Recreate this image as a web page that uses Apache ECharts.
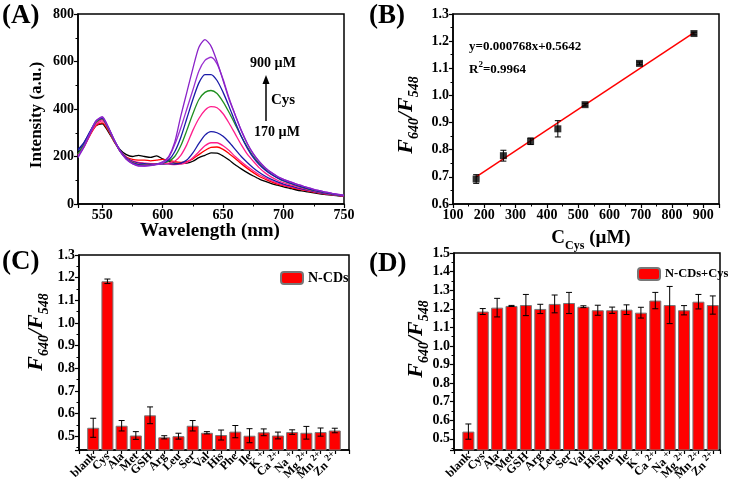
<!DOCTYPE html>
<html><head><meta charset="utf-8">
<script src="https://cdn.jsdelivr.net/npm/echarts@6/dist/echarts.min.js"></script>
<style>html,body{margin:0;padding:0;background:#fff}#c{width:732px;height:485px}</style>
</head><body><div id="c"></div>
<script>
// ---------- Panel A data ----------
const wavelengths = [530,535,540,545,550,555,560,565,570,575,580,585,590,595,600,605,610,615,620,625,630,635,640,645,650,655,660,665,670,675,680,685,690,695,700,705,710,715,720,725,730,735,740,745,750];
const specBlack  = [215,250,295,330,338,305,262,228,208,200,205,200,196,203,190,180,172,170,172,180,195,205,215,214,202,185,165,148,132,118,105,95,86,79,72,66,60,55,51,47,43,40,37,34,32];
const specRed    = [205,240,290,330,342,310,262,222,198,188,185,185,182,185,188,185,178,175,178,190,208,225,238,240,230,212,192,170,150,132,116,104,93,84,77,71,65,60,55,50,46,42,39,36,33];
const specPink1  = [210,245,295,335,350,315,265,222,195,182,175,172,170,170,170,168,166,168,175,195,220,245,258,258,245,225,200,178,158,140,123,110,98,88,80,74,68,62,57,52,47,43,40,36,33];
const specBlue1  = [230,260,305,345,358,320,268,225,195,180,172,170,168,168,168,170,168,172,185,215,255,290,305,300,285,260,230,200,175,152,133,117,104,93,84,77,70,64,58,53,48,44,40,37,34];
const specPink2  = [205,245,295,340,355,318,265,222,192,176,168,166,166,168,170,172,180,205,250,310,360,395,410,405,380,340,295,250,210,180,152,130,113,100,90,82,75,68,61,55,50,45,41,37,34];
const specGreen  = [210,250,300,345,360,318,265,220,190,174,166,164,165,168,172,180,200,245,310,380,440,470,478,465,430,385,335,285,240,200,170,145,125,110,97,88,79,71,64,57,52,47,42,38,35];
const specBlue2  = [225,258,305,350,362,322,268,222,190,172,165,163,164,167,172,185,220,280,360,440,510,545,545,520,470,410,345,285,235,195,165,142,124,110,98,89,80,72,65,58,52,47,43,39,35];
const specPurp1  = [200,245,300,350,365,322,268,220,188,170,162,160,162,166,172,195,250,320,400,480,560,605,618,590,525,445,375,310,255,212,178,152,132,116,104,94,85,77,69,62,56,50,45,40,36];
const specPurp2  = [195,240,295,350,368,325,270,222,188,170,160,160,163,168,178,200,260,370,470,570,660,692,665,600,520,440,375,310,255,210,178,152,132,116,104,94,85,77,69,62,56,50,45,40,36];
const spectra = [specBlack, specRed, specPink1, specBlue1, specPink2, specGreen, specBlue2, specPurp1, specPurp2];
const spectraColors = ['#000000','#ff0000','#ff1e8c','#1a1aa8','#ff1e8c','#1f8f1f','#1a1aa8','#9a30d0','#8a22c8'];

// ---------- Panel B data ----------
const concCys = [174, 261, 348, 435, 522, 696, 870];
const ratioB = [0.692, 0.778, 0.831, 0.877, 0.966, 1.118, 1.228];
const ratioBErr = [0.016, 0.02, 0.012, 0.03, 0.005, 0.005, 0.005];
const fitX = [174, 870];
const fitY = [0.700, 1.231];

// ---------- Panel C / D data ----------
const analytes = ['blank','Cys','Ala','Met','GSH','Arg','Leu','Ser','Val','His','Phe','Ile','K+','Ca2+','Na+','Mg2+','Mn2+','Zn2+'];
const ratioC = [0.538,1.184,0.547,0.504,0.593,0.496,0.501,0.547,0.516,0.506,0.521,0.503,0.518,0.504,0.519,0.516,0.519,0.526];
const ratioCErr = [0.042,0.010,0.023,0.017,0.037,0.007,0.013,0.023,0.005,0.022,0.027,0.031,0.015,0.015,0.010,0.028,0.018,0.010];
const ratioD = [0.539,1.185,1.206,1.215,1.220,1.199,1.226,1.231,1.211,1.192,1.192,1.195,1.179,1.244,1.220,1.192,1.238,1.220];
const ratioDErr = [0.041,0.016,0.050,0.003,0.057,0.025,0.048,0.057,0.005,0.027,0.017,0.026,0.029,0.044,0.100,0.025,0.039,0.049];

const FONT = 'Liberation Serif';
const chart = echarts.init(document.getElementById('c'), null, {renderer:'canvas'});

const axisLineS = {show:true, onZero:false, lineStyle:{color:'#000', width:1.5}};
const tickS = {show:true, inside:false, length:4, lineStyle:{color:'#000', width:1.2}};
const minorS = {show:true, splitNumber:2, length:2.5, lineStyle:{color:'#000', width:1}};
const labS = {color:'#000', fontFamily:FONT, fontWeight:'bold', fontSize:14, margin:4};

function valAxis(grid, extra){
  return Object.assign({type:'value', gridIndex:grid, axisLine:axisLineS, axisTick:tickS, minorTick:minorS,
    splitLine:{show:false}, minorSplitLine:{show:false}, axisLabel:Object.assign({}, labS)}, extra||{});
}
function supLabel(name){
  const m = name.match(/^([A-Za-z]+)(\d*\+)$/);
  if (m) return '{n|' + m[1] + ' }{s|' + m[2] + '}';
  return '{n|' + name + '}';
}
function catAxis(grid, max){
  return valAxis(grid, {min:-1, max:max, interval:1, minorTick:{show:false},
    axisLabel:{color:'#000', fontFamily:FONT, fontWeight:'bold', fontSize:12, rotate:45, margin:4,
      formatter:function(v){ const i = Math.round(v); if (Math.abs(v-i)>1e-6 || i<0 || i>=analytes.length) return ''; return supLabel(analytes[i]); },
      rich:{n:{fontFamily:FONT, fontWeight:'bold', fontSize:12, lineHeight:14, color:'#000', verticalAlign:'bottom'},
            s:{fontFamily:FONT, fontWeight:'bold', fontSize:9.5, lineHeight:14, verticalAlign:'top', color:'#000'}}
    }});
}
function errRender(capW){
  return function(params, api){
    const x = api.value(0), lo = api.value(1), hi = api.value(2);
    const p1 = api.coord([x, lo]), p2 = api.coord([x, hi]);
    const st = {stroke:'#000', lineWidth:1};
    return {type:'group', children:[
      {type:'line', shape:{x1:p1[0],y1:p1[1],x2:p2[0],y2:p2[1]}, style:st},
      {type:'line', shape:{x1:p1[0]-capW,y1:p1[1],x2:p1[0]+capW,y2:p1[1]}, style:st},
      {type:'line', shape:{x1:p2[0]-capW,y1:p2[1],x2:p2[0]+capW,y2:p2[1]}, style:st}
    ]};
  };
}

const series = [];
spectra.forEach(function(arr, k){
  series.push({type:'line', xAxisIndex:0, yAxisIndex:0, name:'s'+k, data:wavelengths.map((w,i)=>[w,arr[i]]),
    showSymbol:false, smooth:0.25, lineStyle:{color:spectraColors[k], width:1.3}, itemStyle:{color:spectraColors[k]}, z:2+k, silent:true});
});
series.push({type:'line', xAxisIndex:1, yAxisIndex:1, name:'fit', data:fitX.map((x,i)=>[x,fitY[i]]),
  showSymbol:false, lineStyle:{color:'#ff0000', width:1.5}, z:2});
series.push({type:'scatter', xAxisIndex:1, yAxisIndex:1, name:'pts', data:concCys.map((x,i)=>[x,ratioB[i]]),
  symbol:'rect', symbolSize:7, itemStyle:{color:'#000'}, z:4});
series.push({type:'custom', xAxisIndex:1, yAxisIndex:1, name:'errB', renderItem:errRender(3),
  data:concCys.map((x,i)=>[x, ratioB[i]-ratioBErr[i], ratioB[i]+ratioBErr[i]]), encode:{x:0, y:[1,2]}, z:5});
series.push({type:'bar', xAxisIndex:2, yAxisIndex:2, name:'N-CDs', data:ratioC.map((v,i)=>[i,v]), barWidth:12,
  itemStyle:{color:'#ff0000', borderColor:'#777', borderWidth:1}, z:2});
series.push({type:'custom', xAxisIndex:2, yAxisIndex:2, name:'errC', renderItem:errRender(3),
  data:ratioC.map((v,i)=>[i, v-ratioCErr[i], v+ratioCErr[i]]), encode:{x:0, y:[1,2]}, z:5});
series.push({type:'bar', xAxisIndex:3, yAxisIndex:3, name:'N-CDs+Cys', data:ratioD.map((v,i)=>[i,v]), barWidth:12,
  itemStyle:{color:'#ff0000', borderColor:'#777', borderWidth:1}, z:2});
series.push({type:'custom', xAxisIndex:3, yAxisIndex:3, name:'errD', renderItem:errRender(3),
  data:ratioD.map((v,i)=>[i, v-ratioDErr[i], v+ratioDErr[i]]), encode:{x:0, y:[1,2]}, z:5});

const gridS = {show:true, borderColor:'#000', borderWidth:1.5, backgroundColor:'transparent', outerBoundsMode:'none', containLabel:false};
const fRich = {
  f:{fontFamily:FONT, fontWeight:'bold', fontStyle:'italic', fontSize:22, lineHeight:24, color:'#000', verticalAlign:'bottom'},
  s:{fontFamily:FONT, fontWeight:'bold', fontStyle:'italic', fontSize:14, lineHeight:24, color:'#000', verticalAlign:'bottom', padding:[0,0,-4,0]}
};
const fText = '{f|F}{s|640}{f|/F}{s|548}';
function txt(x, y, text, size, extra){
  return Object.assign({type:'text', x:x, y:y, silent:true, style:{text:text, fontFamily:FONT, fontWeight:'bold', fontSize:size, fill:'#000', align:'left', verticalAlign:'middle'}}, extra||{});
}

const option = {
  animation:false,
  backgroundColor:'#fff',
  grid:[
    Object.assign({left:78, top:14, width:266, height:190}, gridS),
    Object.assign({left:453, top:14, width:266, height:190}, gridS),
    Object.assign({left:79, top:255, width:270, height:195}, gridS),
    Object.assign({left:454, top:253, width:266, height:197}, gridS)
  ],
  xAxis:[
    valAxis(0, {min:530, max:750, splitNumber:5, axisLabel:Object.assign({}, labS, {showMinLabel:false})}),
    valAxis(1, {min:100, max:950, interval:100, axisLabel:Object.assign({}, labS, {showMaxLabel:false})}),
    catAxis(2, 18),
    catAxis(3, 17.5)
  ],
  yAxis:[
    valAxis(0, {min:0, max:800, interval:200}),
    valAxis(1, {min:0.6, max:1.3, interval:0.1, axisLabel:Object.assign({}, labS, {formatter:v=>v.toFixed(1)})}),
    valAxis(2, {min:0.44, max:1.3, splitNumber:8, axisLabel:Object.assign({}, labS, {showMinLabel:false, formatter:v=>v.toFixed(1)})}),
    valAxis(3, {min:0.44, max:1.5, splitNumber:10, axisLabel:Object.assign({}, labS, {showMinLabel:false, formatter:v=>v.toFixed(1)})})
  ],
  legend:[
    {data:['N-CDs'], left:275, top:266, itemWidth:22, itemHeight:12, itemGap:4, selectedMode:false,
      textStyle:{fontFamily:FONT, fontWeight:'bold', fontSize:14, color:'#000'}},
    {data:['N-CDs+Cys'], left:632, top:262, itemWidth:22, itemHeight:12, itemGap:4, selectedMode:false,
      textStyle:{fontFamily:FONT, fontWeight:'bold', fontSize:12.5, color:'#000'}}
  ],
  series:series,
  graphic:[
    txt(2, 16, '(A)', 27),
    txt(369, 16, '(B)', 27),
    txt(2, 262, '(C)', 27),
    txt(369, 264, '(D)', 27),
    txt(37, 115, 'Intensity (a.u.)', 17, {rotation:Math.PI/2, style:{text:'Intensity (a.u.)', fontFamily:FONT, fontWeight:'bold', fontSize:17, fill:'#000', align:'center', verticalAlign:'middle'}}),
    txt(210, 231, 'Wavelength (nm)', 19, {style:{text:'Wavelength (nm)', fontFamily:FONT, fontWeight:'bold', fontSize:19, fill:'#000', align:'center', verticalAlign:'middle'}}),
    txt(273, 63, '900 µM', 14, {style:{text:'900 µM', fontFamily:FONT, fontWeight:'bold', fontSize:14, fill:'#000', align:'center', verticalAlign:'middle'}}),
    txt(271, 100, 'Cys', 15),
    txt(277, 132, '170 µM', 14, {style:{text:'170 µM', fontFamily:FONT, fontWeight:'bold', fontSize:14, fill:'#000', align:'center', verticalAlign:'middle'}}),
    {type:'line', silent:true, shape:{x1:266, y1:121, x2:266, y2:82}, style:{stroke:'#000', lineWidth:1.5}},
    {type:'polygon', silent:true, shape:{points:[[262.5,84],[269.5,84],[266,75]]}, style:{fill:'#000'}},
    {type:'text', x:405, y:115, rotation:Math.PI/2, silent:true, style:{text:fText, rich:fRich, align:'center', verticalAlign:'middle'}},
    {type:'text', x:591, y:237, silent:true, style:{text:'{c|C}{s|Cys}{c| (µM)}', align:'center', verticalAlign:'middle',
      rich:{c:{fontFamily:FONT, fontWeight:'bold', fontSize:19, lineHeight:22, color:'#000', verticalAlign:'bottom'},
            s:{fontFamily:FONT, fontWeight:'bold', fontSize:12, lineHeight:22, color:'#000', verticalAlign:'bottom', padding:[0,0,-4,0]}}}},
    txt(469, 47, 'y=0.000768x+0.5642', 13),
    {type:'text', x:469, y:68, silent:true, style:{text:'{t|R}{p|2}{t|=0.9964}', align:'left', verticalAlign:'middle',
      rich:{t:{fontFamily:FONT, fontWeight:'bold', fontSize:13, lineHeight:16, color:'#000', verticalAlign:'bottom'},
            p:{fontFamily:FONT, fontWeight:'bold', fontSize:9, lineHeight:16, color:'#000', verticalAlign:'top'}}}},
    {type:'text', x:35, y:332, rotation:Math.PI/2, silent:true, style:{text:fText, rich:fRich, align:'center', verticalAlign:'middle'}},
    {type:'text', x:415, y:339, rotation:Math.PI/2, silent:true, style:{text:fText, rich:fRich, align:'center', verticalAlign:'middle'}}
  ]
};
chart.setOption(option);
</script>
</body></html>
